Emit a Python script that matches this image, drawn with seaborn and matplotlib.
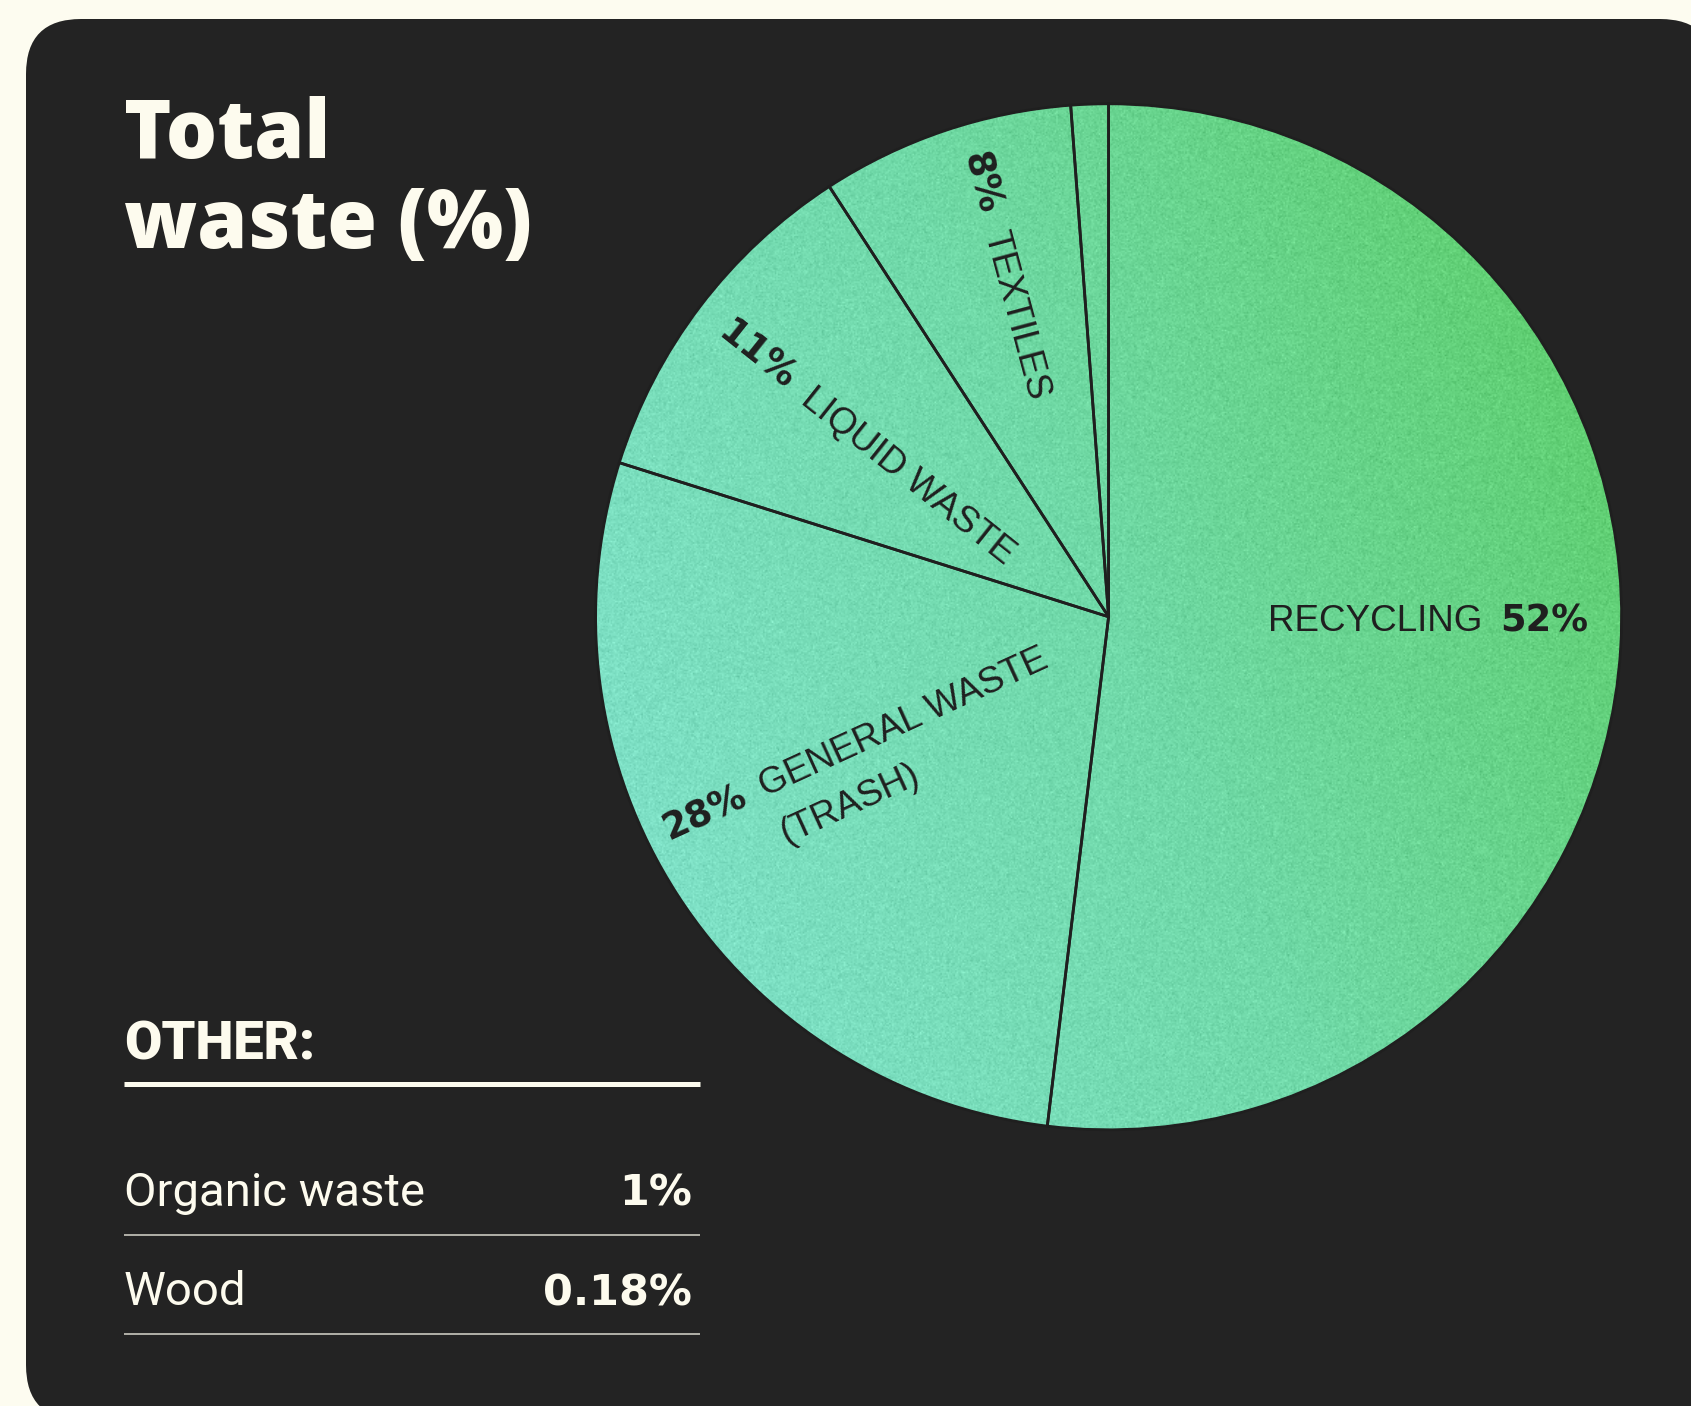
import numpy as np
import matplotlib
matplotlib.use("Agg")
import matplotlib.pyplot as plt
import seaborn as sns
from matplotlib.patches import FancyBboxPatch, Circle
from matplotlib.font_manager import FontProperties

# Share of total waste (%)
pie_labels = ["RECYCLING", "GENERAL WASTE\n(TRASH)", "LIQUID WASTE", "TEXTILES"]
pie_values = [52, 28, 11, 8]
other_labels = ["Organic waste", "Wood"]
other_values = [1, 0.18]

title_lines = ["Total", "waste (%)"]
other_heading = "OTHER:"

W, H, DPI = 1691, 1406, 100

sns.set_theme(style="white")
plt.rcParams["font.family"] = ["Liberation Sans", "DejaVu Sans"]

BG = "#fdfcf0"
CARD = "#232323"
CREAM = "#fdfbee"
INK = "#1f1f1f"

fig = plt.figure(figsize=(W / DPI, H / DPI), dpi=DPI, facecolor=BG)
ax = fig.add_axes([0, 0, 1, 1])
ax.set_facecolor(BG)

# dark card with rounded corners
card = FancyBboxPatch((26, -14), 1715 - 26, (H - 19) + 14,
                      boxstyle="round,pad=0,rounding_size=55",
                      facecolor=CARD, edgecolor="none", zorder=0)
ax.add_patch(card)

# pie geometry (pixel units, y up)
cx, cy, R = 1108.6, H - 616.8, 513.0
values = pie_values + [sum(other_values)]
wedges, _ = ax.pie(values, startangle=90, counterclock=False,
                   center=(cx, cy), radius=R, frame=True,
                   wedgeprops=dict(facecolor="none", edgecolor=INK,
                                   linewidth=2.0, zorder=2))

# gradient fill: teal on the lower left, green on the upper right, fine grain
cmap = sns.blend_palette(["#82e2cf", "#70d9a8", "#5bcc61"], as_cmap=True)
n = 700
u = np.linspace(0, 1, n)
uu, vv = np.meshgrid(u, u)
t = np.clip(0.68 * uu + 0.32 * vv, 0, 1)
rgb = cmap(t)[..., :3]
rng = np.random.default_rng(11)
grain = rng.normal(0, 0.028, (n, n, 1))
rgb = np.clip(rgb + grain, 0, 1)
im = ax.imshow(rgb, extent=(cx - R, cx + R, cy - R, cy + R), origin="lower",
               zorder=1, interpolation="bilinear")
clip = Circle((cx, cy), R, transform=ax.transData)
im.set_clip_path(clip)

ax.set_xlim(0, W)
ax.set_ylim(0, H)
ax.set_aspect("auto")
ax.set_axis_off()

# fonts
f_title = FontProperties(family=["Open Sans", "Roboto", "DejaVu Sans"], weight=800, size=58)
f_head = FontProperties(family=["Roboto", "DejaVu Sans"], weight="black", size=39)
f_row = FontProperties(family=["Roboto", "DejaVu Sans"], size=34)
f_val = FontProperties(family=["DejaVu Sans"], weight="bold", size=31)
f_name = FontProperties(family=["Liberation Sans", "DejaVu Sans"], size=26.5)
f_pct = FontProperties(family=["DejaVu Sans"], weight="bold", size=26.5)

# title
ax.text(124, H - 158, title_lines[0], fontproperties=f_title, color=CREAM,
        ha="left", va="baseline")
ax.text(124, H - 248, title_lines[1], fontproperties=f_title, color=CREAM,
        ha="left", va="baseline")

fig.canvas.draw()
renderer = fig.canvas.get_renderer()


def text_width(s, prop):
    w, _, _ = renderer.get_text_width_height_descent(s, prop, ismath=False)
    return w


def draw_run(x, y, rot, parts, gap=18, line_h=51):
    a = np.deg2rad(rot)
    for s, prop in parts:
        lines = s.split("\n")
        for k, line in enumerate(lines):
            lx = x + k * line_h * np.sin(a)
            ly = y - k * line_h * np.cos(a)
            ax.text(lx, ly, line, fontproperties=prop, color=INK, rotation=rot,
                    rotation_mode="anchor", ha="left", va="baseline", zorder=3)
        step = text_width(lines[0], prop) + gap
        x += step * np.cos(a)
        y += step * np.sin(a)


def pct(v):
    return f"{v:g}%"


# label anchors (fraction of radius from centre) and text angle
label_pos = [(0.311, -0.028), (-0.857, -0.437), (-0.765, 0.547), (-0.284, 0.898)]
label_rot = [0, 24.6, -38.5, -75]
for i, (lab, v) in enumerate(zip(pie_labels, pie_values)):
    px, py = label_pos[i]
    x, y = cx + px * R, cy + py * R
    if i == 0:
        parts = [(lab, f_name), (pct(v), f_pct)]
    else:
        parts = [(pct(v), f_pct), (lab, f_name)]
    draw_run(x, y, label_rot[i], parts)

# "other" table
ax.text(124, H - 1060, other_heading, fontproperties=f_head, color=CREAM,
        ha="left", va="baseline")
ax.plot([124, 700], [H - 1084, H - 1084], color=CREAM, lw=3.6,
        solid_capstyle="butt")
row_base = [1206, 1305]
row_rule = [1235, 1334]
for lab, v, yb, yr in zip(other_labels, other_values, row_base, row_rule):
    ax.text(124, H - yb, lab, fontproperties=f_row, color=CREAM,
            ha="left", va="baseline")
    ax.text(692, H - yb, pct(v), fontproperties=f_val, color=CREAM,
            ha="right", va="baseline")
    ax.plot([124, 700], [H - yr, H - yr], color="#d8d7cc", lw=1.1,
            solid_capstyle="butt")

fig.savefig("out.png", dpi=DPI, facecolor=BG)
